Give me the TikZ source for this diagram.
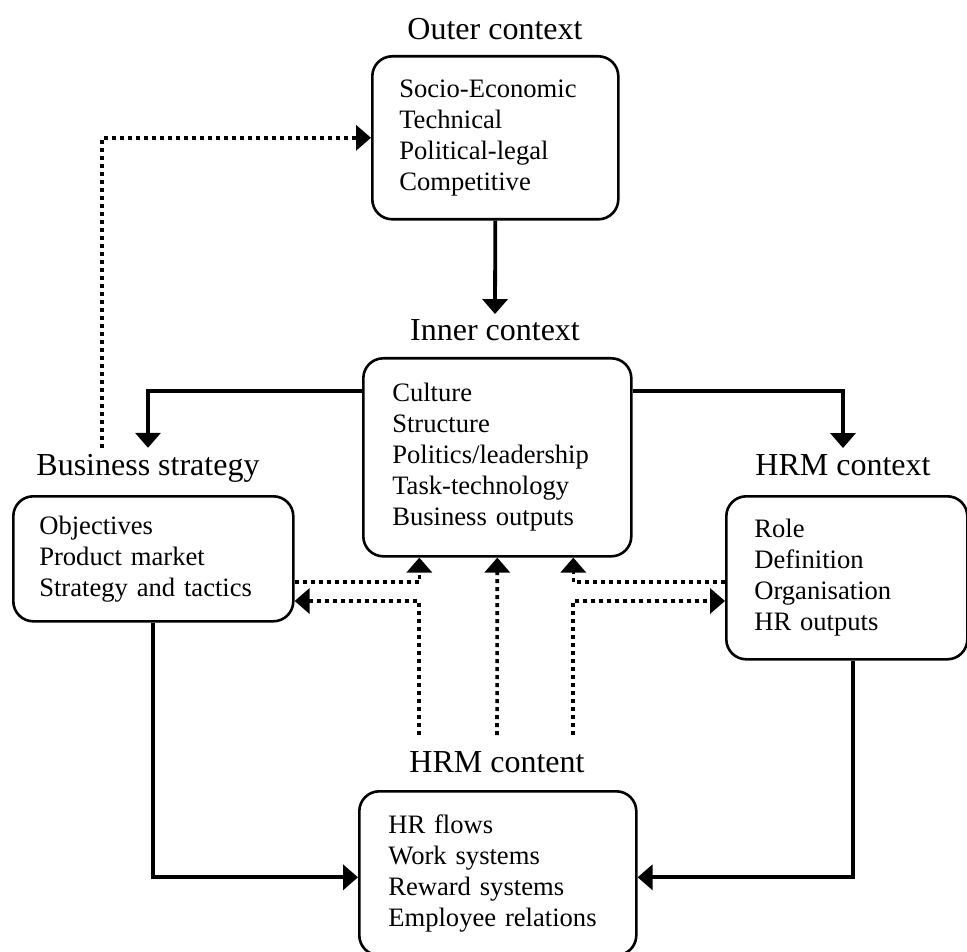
\documentclass[tikz,border=0pt]{standalone}
\usepackage{fontspec}
\setmainfont{Liberation Serif}
\usetikzlibrary{arrows.meta}

\newcommand\boxfont{\fontsize{13.3}{15.5}\selectfont}
\newcommand\headfont{\fontsize{16}{19}\selectfont}

\tikzset{
  ctxbox/.style={draw, line width=1.3pt, rounded corners=10pt, anchor=north west,
    align=left, inner ysep=0pt, font=\boxfont},
  ctxhead/.style={anchor=base, inner sep=0pt, outer sep=3pt, font=\headfont},
  flow/.style={line width=1.9pt, -{Triangle[length=7.5pt,width=12.5pt]}},
  infl/.style={line width=1.8pt, dash pattern=on 2pt off 2pt,
    -{Triangle[length=7.5pt,width=12.5pt]}},
}

\begin{document}
\begin{tikzpicture}[x=0.5pt, y=-0.5pt]
    \useasboundingbox (0,0) rectangle (967,951);

    % Outer context
    \node[ctxhead] (outerhead) at (495,40) {Outer context};
    \node[ctxbox, minimum width=123pt, minimum height=81.5pt, text width=96pt, inner xsep=13.5pt]
        (outer) at (371,55) {Socio-Economic\\Technical\\Political-legal\\Competitive};

    % Inner context
    \node[ctxhead] (innerhead) at (495,341) {Inner context};
    \node[ctxbox, minimum width=134pt, minimum height=99pt, text width=105pt, inner xsep=14.5pt]
        (inner) at (362,357) {Culture\\Structure\\Politics/leadership\\Task-technology\\Business outputs};

    % Business strategy
    \node[ctxhead] (bizhead) at (148,475) {Business strategy};
    \node[ctxbox, minimum width=140pt, minimum height=62.5pt, text width=114pt, inner xsep=13pt]
        (biz) at (12,495) {Objectives\\Product market\\Strategy and tactics};

    % HRM context
    \node[ctxhead] (hrmhead) at (843,475) {HRM context};
    \node[ctxbox, minimum width=120.5pt, minimum height=81.5pt, text width=92.5pt, inner xsep=14pt]
        (hrm) at (725,495) {Role\\Definition\\Organisation\\HR outputs};

    % HRM content
    \node[ctxhead] (conthead) at (497,772) {HRM content};
    \node[ctxbox, minimum width=138.5pt, minimum height=82pt, text width=109.5pt, inner xsep=14.5pt]
        (cont) at (358,790) {HR flows\\Work systems\\Reward systems\\Employee relations};

    % Solid links
    \draw[flow] (outer.south) -- (innerhead.north);
    \draw[flow] ([yshift=33pt]inner.west) -| (bizhead.north);
    \draw[flow] ([yshift=33pt]inner.east) -| (hrmhead.north);
    \draw[flow] (biz.south) |- ([yshift=-2pt]cont.west);
    \draw[flow] ([xshift=3pt]hrm.south) |- ([yshift=-2pt]cont.east);

    % Dotted links
    \coordinate (upper) at (0,582);
    \coordinate (lower) at (0,601);

    \draw[infl] ([xshift=-23pt]bizhead.north) |- (outer.west);
    \draw[infl] (biz.east |- upper) -| ([xshift=-39pt]inner.south);
    \draw[infl] ([xshift=-39pt,yshift=5pt]conthead.north) |- (biz.east |- lower);
    \draw[infl] ([yshift=5pt]conthead.north) -- (inner.south);
    \draw[infl] (hrm.west |- upper) -| ([xshift=38pt]inner.south);
    \draw[infl] ([xshift=38pt,yshift=5pt]conthead.north) |- (hrm.west |- lower);
\end{tikzpicture}
\end{document}
